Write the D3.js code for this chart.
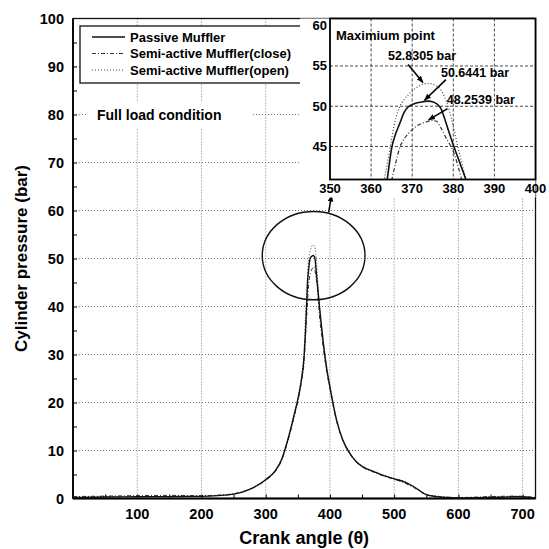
<!DOCTYPE html>
<html>
<head>
<meta charset="utf-8">
<script src="https://cdn.jsdelivr.net/npm/d3@7"></script>
<style>
  body { margin: 0; background: #fff; }
  svg { display: block; font-family: "Liberation Sans", Arial, sans-serif; font-weight: bold; }
</style>
</head>
<body>
<div id="chart"></div>
<script>
// crank angle samples shared by the three series
const angle = [0, 25, 50, 100, 150, 200, 225, 250, 275, 300, 315, 325, 335, 345, 350, 355,
  360, 362, 364, 365, 366, 367, 368, 369, 370, 371, 372, 373, 374, 375, 376, 377, 378, 379,
  380, 381, 382, 383, 384, 386, 390, 395, 400, 410, 420, 430, 440, 450, 470, 485, 500, 515,
  530, 550, 565, 580, 600, 650, 690, 720];

const passive = [0.2, 0.25, 0.3, 0.35, 0.4, 0.45, 0.6, 0.9, 1.9, 3.9, 5.8, 8.2, 12.5, 17.8, 20.6, 24.2,
  30.0, 35.0, 41.2, 44.8, 46.6, 47.9, 49.2, 49.9, 50.2, 50.4, 50.5, 50.6, 50.64, 50.55, 50.3, 49.7, 48.3, 46.7,
  45.2, 43.8, 42.4, 41.0, 39.6, 36.9, 32.0, 27.0, 23.2, 16.5, 12.2, 9.6, 7.8, 6.7, 5.5, 4.7, 4.1, 3.5,
  2.5, 0.8, 0.4, 0.2, 0.1, 0.2, 0.35, 0.1];

const semiClose = [0.4, 0.45, 0.5, 0.6, 0.65, 0.6, 0.7, 1.0, 1.9, 3.8, 5.6, 8.0, 12.2, 17.4, 20.2, 23.8,
  29.0, 33.8, 38.5, 40.8, 43.0, 44.9, 45.9, 46.6, 47.1, 47.5, 47.8, 48.0, 48.15, 48.25, 48.1, 47.3, 46.3, 45.4,
  44.4, 42.8, 41.0, 39.3, 37.6, 35.2, 31.0, 26.4, 22.8, 16.3, 12.1, 9.5, 7.7, 6.6, 5.4, 4.6, 4.0, 3.3,
  2.3, 0.8, 0.5, 0.3, 0.2, 0.4, 0.5, 0.2];

const semiOpen = [0.3, 0.3, 0.35, 0.45, 0.5, 0.5, 0.6, 0.9, 2.0, 4.0, 5.9, 8.4, 12.8, 18.2, 21.0, 24.8,
  31.5, 38.0, 43.0, 46.0, 48.5, 50.0, 50.8, 51.4, 51.9, 52.3, 52.6, 52.8, 52.83, 52.75, 52.5, 52.0, 51.0, 49.5,
  47.5, 45.2, 43.1, 41.0, 39.2, 37.0, 32.3, 27.3, 23.5, 16.7, 12.4, 9.7, 7.9, 6.8, 5.6, 4.8, 4.2, 3.6,
  2.6, 0.9, 0.5, 0.3, 0.2, 0.3, 0.45, 0.2];

const seriesNames = ["Passive Muffler", "Semi-active Muffler(close)", "Semi-active Muffler(open)"];
const xTicks = [100, 200, 300, 400, 500, 600, 700];
const yTicks = [0, 10, 20, 30, 40, 50, 60, 70, 80, 90, 100];
const insetXTicks = [350, 360, 370, 380, 390, 400];
const insetYTicks = [45, 50, 55, 60];
const peakLabels = ["52.8305 bar", "50.6441 bar", "48.2539 bar"];

const width = 549, height = 549;
const margin = {left: 73, right: 13.5, top: 18.5, bottom: 50.5};
const plotW = width - margin.left - margin.right;
const plotH = height - margin.top - margin.bottom;

// line styles for the three series
const styles = [
  {dash: null, width: 1.4, color: "#111"},
  {dash: "4,2,1,2", width: 1, color: "#333"},
  {dash: "1,2", width: 1, color: "#444"}
];

const svg = d3.select("#chart").append("svg")
  .attr("width", width)
  .attr("height", height);

const g = svg.append("g")
  .attr("transform", `translate(${margin.left}, ${margin.top})`);

let x = d3.scaleLinear().domain([0, 720]).range([0, plotW]);
let y = d3.scaleLinear().domain([0, 100]).range([plotH, 0]);

// grid
g.selectAll(".vgrid").data(xTicks).enter().append("line")
  .attr("x1", d => x(d)).attr("x2", d => x(d))
  .attr("y1", 0).attr("y2", plotH)
  .attr("stroke", "#555").attr("stroke-width", 0.8).attr("stroke-dasharray", "1,2");
g.selectAll(".hgrid").data(yTicks.slice(1, -1)).enter().append("line")
  .attr("x1", 0).attr("x2", plotW)
  .attr("y1", d => y(d)).attr("y2", d => y(d))
  .attr("stroke", "#555").attr("stroke-width", 0.8).attr("stroke-dasharray", "1,2");

// axes
g.append("g")
  .attr("transform", `translate(0, ${plotH})`)
  .call(d3.axisBottom(x).tickValues(d3.range(50, 720, 50)).tickSize(-4).tickFormat(""))
  .call(a => a.select(".domain").remove());
g.append("g")
  .call(d3.axisLeft(y).tickValues(d3.range(5, 100, 5)).tickSize(-4).tickFormat(""))
  .call(a => a.select(".domain").remove());

g.selectAll(".xlab").data(xTicks).enter().append("text")
  .attr("x", d => x(d)).attr("y", plotH + 20)
  .attr("text-anchor", "middle").style("font-size", "14.5px")
  .text(d => d);
g.selectAll(".ylab").data(yTicks).enter().append("text")
  .attr("x", -9).attr("y", d => y(d) + 5)
  .attr("text-anchor", "end").style("font-size", "14.5px")
  .text(d => d);

// frame
g.append("rect").attr("width", plotW).attr("height", plotH)
  .attr("fill", "none").attr("stroke", "#111").attr("stroke-width", 1.3);
g.append("line").attr("x1", 0).attr("x2", plotW).attr("y1", plotH).attr("y2", plotH)
  .attr("stroke", "#000").attr("stroke-width", 2.2);
g.append("line").attr("x1", 0).attr("x2", 0).attr("y1", 0).attr("y2", plotH)
  .attr("stroke", "#000").attr("stroke-width", 1.8);

// curves
const allSeries = [passive, semiClose, semiOpen];
let line = d3.line()
  .x((d, i) => x(angle[i]))
  .y(d => y(d))
  .curve(d3.curveMonotoneX);

for (let i = 2; i >= 0; i--) {
  g.append("path")
    .datum(allSeries[i])
    .attr("d", line)
    .attr("fill", "none")
    .attr("stroke", styles[i].color)
    .attr("stroke-width", styles[i].width)
    .attr("stroke-dasharray", styles[i].dash);
}

// arrow marker
svg.append("defs").append("marker")
  .attr("id", "arrow")
  .attr("viewBox", "0 0 10 10")
  .attr("refX", 9).attr("refY", 5)
  .attr("markerWidth", 7).attr("markerHeight", 7)
  .attr("markerUnits", "userSpaceOnUse")
  .attr("orient", "auto")
  .append("path").attr("d", "M0,1 L10,5 L0,9 Z").attr("fill", "#000");

// ellipse round the peak
g.append("ellipse")
  .attr("cx", x(374.6)).attr("cy", y(50.6))
  .attr("rx", x(80) - x(0)).attr("ry", y(0) - y(9.2))
  .attr("fill", "none").attr("stroke", "#111").attr("stroke-width", 1.4);
g.append("line")
  .attr("x1", x(398)).attr("y1", y(59.6))
  .attr("x2", x(402.5)).attr("y2", y(63.2))
  .attr("stroke", "#000").attr("stroke-width", 1.5)
  .attr("marker-end", "url(#arrow)");

// legend
let legend = g.append("g").attr("transform", "translate(7, 7.5)");
legend.append("rect").attr("width", 223).attr("height", 57)
  .attr("fill", "#fff").attr("stroke", "#111").attr("stroke-width", 1.3);
seriesNames.forEach((name, i) => {
  let ly = 11 + i * 16.5;
  legend.append("line")
    .attr("x1", 12).attr("x2", 45).attr("y1", ly).attr("y2", ly)
    .attr("stroke", styles[i].color).attr("stroke-width", styles[i].width)
    .attr("stroke-dasharray", styles[i].dash);
  legend.append("text")
    .attr("x", 50).attr("y", ly + 4.5)
    .style("font-size", "13px")
    .text(name);
});

// "Full load condition"
g.append("rect").attr("x", 14).attr("y", 84).attr("width", 166).attr("height", 26).attr("fill", "#fff");
g.append("text").attr("x", 24).attr("y", 101)
  .style("font-size", "14px")
  .text("Full load condition");

// inset
const inset = {left: 330 - margin.left, top: 0, w: plotW - (330 - margin.left), h: 161};
let ig = g.append("g").attr("transform", `translate(${inset.left}, ${inset.top})`);
let ix = d3.scaleLinear().domain([350, 400]).range([0, inset.w]);
let iy = d3.scaleLinear().domain([40.9, 60.9]).range([inset.h, 0]);

ig.append("rect").attr("x", -30).attr("y", 0).attr("width", inset.w + 30).attr("height", inset.h + 18)
  .attr("fill", "#fff");
ig.append("clipPath").attr("id", "insetClip")
  .append("rect").attr("width", inset.w).attr("height", inset.h);

ig.selectAll(".ivgrid").data(insetXTicks.slice(1, -1)).enter().append("line")
  .attr("x1", d => ix(d)).attr("x2", d => ix(d))
  .attr("y1", 0).attr("y2", inset.h)
  .attr("stroke", "#333").attr("stroke-width", 0.9).attr("stroke-dasharray", "3,2");
ig.selectAll(".ihgrid").data(insetYTicks.slice(0, -1)).enter().append("line")
  .attr("x1", 0).attr("x2", inset.w)
  .attr("y1", d => iy(d)).attr("y2", d => iy(d))
  .attr("stroke", "#333").attr("stroke-width", 0.9).attr("stroke-dasharray", "3,2");

let iline = d3.line()
  .x((d, i) => ix(angle[i]))
  .y(d => iy(d))
  .curve(d3.curveMonotoneX);
let curves = ig.append("g").attr("clip-path", "url(#insetClip)");
for (let i = 2; i >= 0; i--) {
  curves.append("path")
    .datum(allSeries[i])
    .attr("d", iline)
    .attr("fill", "none")
    .attr("stroke", styles[i].color)
    .attr("stroke-width", i == 0 ? 1.6 : 1.2)
    .attr("stroke-dasharray", styles[i].dash);
}

ig.append("rect").attr("width", inset.w).attr("height", inset.h)
  .attr("fill", "none").attr("stroke", "#000").attr("stroke-width", 1.8);

ig.selectAll(".ixlab").data(insetXTicks).enter().append("text")
  .attr("x", d => ix(d)).attr("y", inset.h + 13)
  .attr("text-anchor", "middle").style("font-size", "13px")
  .text(d => d);
ig.selectAll(".iylab").data(insetYTicks).enter().append("text")
  .attr("x", -3).attr("y", d => iy(d) + 4.5)
  .attr("text-anchor", "end").style("font-size", "13px")
  .text(d => d);

ig.append("text").attr("x", 6).attr("y", 21)
  .style("font-size", "13px")
  .text("Maximium point");

// peak call-outs: text position and arrow in inset data units
const calloutText = [[364.1, 55.8], [377.0, 53.6], [378.4, 50.3]];
const calloutTail = [[369.0, 55.2], [378.2, 53.3], [378.6, 49.7]];
const calloutTip = [[372.6, 52.95], [373.0, 50.75], [374.0, 48.3]];
peakLabels.forEach((lab, i) => {
  ig.append("text")
    .attr("x", ix(calloutText[i][0])).attr("y", iy(calloutText[i][1]))
    .style("font-size", "12.5px")
    .text(lab);
  ig.append("line")
    .attr("x1", ix(calloutTail[i][0])).attr("y1", iy(calloutTail[i][1]))
    .attr("x2", ix(calloutTip[i][0])).attr("y2", iy(calloutTip[i][1]))
    .attr("stroke", "#000").attr("stroke-width", 1.6)
    .attr("marker-end", "url(#arrow)");
});

// axis titles
svg.append("text")
  .attr("transform", `translate(27, ${margin.top + plotH / 2}) rotate(-90)`)
  .attr("text-anchor", "middle")
  .style("font-size", "17px")
  .text("Cylinder pressure (bar)");
svg.append("text")
  .attr("x", margin.left + plotW / 2).attr("y", 544)
  .attr("text-anchor", "middle")
  .style("font-size", "18px")
  .text("Crank angle (θ)");
</script>
</body>
</html>
